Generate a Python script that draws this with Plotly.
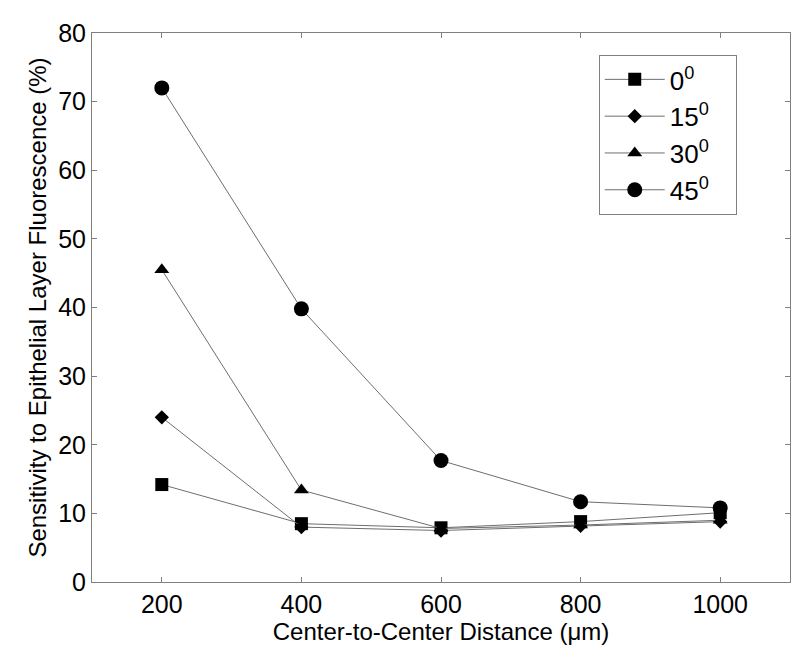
import plotly.graph_objects as go

# center-to-center distance (um)
distance = [200, 400, 600, 800, 1000]

# sensitivity (%) per angle
angle_0 = [14.2, 8.5, 7.9, 8.8, 10.1]
angle_15 = [24.0, 8.0, 7.5, 8.2, 8.8]
angle_30 = [45.5, 13.4, 7.8, 8.3, 9.0]
angle_45 = [72.0, 39.8, 17.7, 11.7, 10.8]

labels = ["0<sup>0</sup>", "15<sup>0</sup>", "30<sup>0</sup>", "45<sup>0</sup>"]
symbols = ["square", "diamond", "triangle-up", "circle"]
sizes = [13, 11, 13, 15]

FONT = "Liberation Sans, Arial, sans-serif"
PAD = "\u00a0\u00a0\u00a0"

fig = go.Figure()
for name, vals, sym, sz in zip(labels, [angle_0, angle_15, angle_30, angle_45], symbols, sizes):
    fig.add_trace(go.Scatter(
        x=distance, y=vals, name=name + PAD, legendgroup=name,
        mode="lines+markers",
        line=dict(color="#6e6e6e", width=1),
        marker=dict(symbol=sym, size=sz, color="black", line=dict(width=0)),
    ))

axis_common = dict(
    showline=True, linecolor="#808080", linewidth=1, mirror="ticks",
    ticks="inside", ticklen=5, tickcolor="#808080",
    showgrid=False, zeroline=False,
    tickfont=dict(family=FONT, size=25, color="black"),
)

fig.update_layout(
    width=800, height=649,
    margin=dict(l=84, r=18, t=25, b=75),
    paper_bgcolor="white", plot_bgcolor="white",
    font=dict(family=FONT, color="black"),
    xaxis=dict(
        range=[100, 1100], tickvals=distance,
        title=dict(text="Center-to-Center Distance (\u03bcm)", font=dict(size=24), standoff=4),
        **axis_common,
    ),
    yaxis=dict(
        range=[0, 80], dtick=10,
        title=dict(text="Sensitivity to Epithelial Layer Fluorescence (%)", font=dict(size=24), standoff=4),
        **axis_common,
    ),
    legend=dict(
        x=0.726, y=0.96, xanchor="left", yanchor="top",
        bordercolor="#808080", borderwidth=1, bgcolor="white",
        font=dict(size=26, family=FONT),
        itemwidth=60, tracegroupgap=0,
    ),
)

fig.write_html("out.html")
